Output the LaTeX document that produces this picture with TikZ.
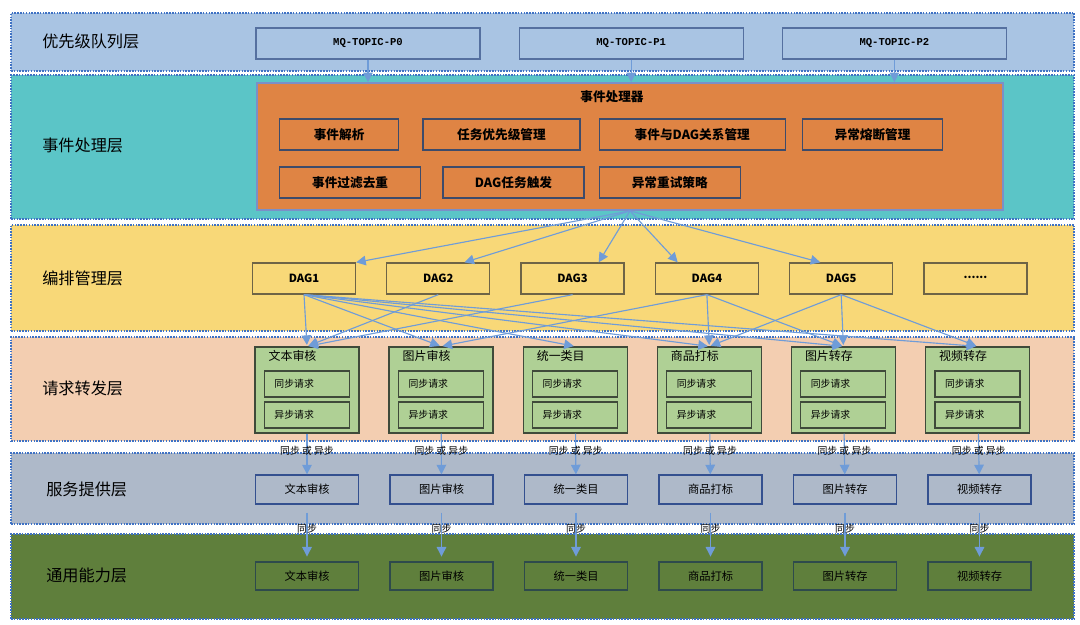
\documentclass[tikz,border=0pt]{standalone}
\usepackage{fontspec}
\setmainfont{Noto Sans CJK SC}
\newfontfamily\mqfont{Liberation Mono}
\usetikzlibrary{arrows.meta,positioning,calc}
\definecolor{queuefill}{HTML}{A9C4E3}
\definecolor{eventfill}{HTML}{5BC5C7}
\definecolor{dagfill}{HTML}{F8D878}
\definecolor{reqfill}{HTML}{F3CEB1}
\definecolor{svcfill}{HTML}{AEB9C9}
\definecolor{basefill}{HTML}{5F7F3C}
\definecolor{procorange}{HTML}{DF8444}
\definecolor{reqgreen}{HTML}{AFD095}
\definecolor{layerline}{HTML}{3F72C4}
\definecolor{flowblue}{HTML}{6F9CD8}
\definecolor{mqline}{HTML}{5570A0}
\definecolor{procline}{HTML}{7B8FC7}
\definecolor{taskline}{HTML}{3D4B6B}
\definecolor{dagline}{HTML}{6E6446}
\definecolor{reqline}{HTML}{3F4A3A}
\definecolor{svcline}{HTML}{34508F}
\definecolor{abilityline}{HTML}{2E4A4C}

\begin{document}
\begin{tikzpicture}[
  x=0.025cm, y=-0.025cm,
  node distance=0.75cm,
  layer/.style={draw=layerline, line width=1.5pt, dash pattern=on 1.1pt off 0.9pt, anchor=north west, inner sep=0pt, minimum width=26.575cm},
  ltitle/.style={anchor=west, inner sep=0pt, font=\fontsize{11.5}{13}\selectfont},
  mq/.style={draw=mqline, line width=0.8pt, fill=queuefill, minimum width=5.6cm, minimum height=0.775cm, font=\mqfont\bfseries\fontsize{7.5}{9}\selectfont},
  proc/.style={draw=procline, line width=1.2pt, fill=procorange, minimum width=18.65cm, minimum height=3.175cm},
  task/.style={draw=taskline, line width=0.9pt, fill=procorange, minimum height=0.775cm, anchor=west, font=\bfseries\fontsize{9}{10}\selectfont},
  dag/.style={draw=dagline, line width=0.9pt, fill=dagfill, minimum width=2.575cm, minimum height=0.775cm, font=\bfseries\fontsize{8}{9}\selectfont},
  req/.style={draw=reqline, line width=0.9pt, fill=reqgreen, minimum width=2.6cm, minimum height=2.15cm},
  reqtitle/.style={anchor=west, inner sep=0pt, font=\fontsize{8.5}{9}\selectfont},
  call/.style={draw=reqline, line width=0.8pt, fill=reqgreen, minimum height=0.65cm, text width=1.625cm, inner xsep=0.25cm, align=left, font=\fontsize{7}{8}\selectfont},
  svc/.style={draw=svcline, line width=0.9pt, fill=svcfill, minimum width=2.575cm, minimum height=0.725cm, font=\fontsize{8}{9}\selectfont},
  ability/.style={draw=abilityline, line width=0.9pt, fill=basefill, minimum width=2.575cm, minimum height=0.7cm, font=\fontsize{8}{9}\selectfont},
  flow/.style={-{Triangle[length=2.4mm, width=2.4mm]}, line width=0.8pt, color=flowblue},
  tag/.style={inner sep=0pt, text=black, font=\fontsize{7}{8}\selectfont},
]
\useasboundingbox (0,0) rectangle (1080,625);

% layers
\node[layer, fill=queuefill, minimum height=1.45cm] (lqueue) at (10,12) {};
\node[layer, fill=eventfill, minimum height=3.6cm] (levent) at (10,74) {};
\node[layer, fill=dagfill, minimum height=2.65cm] (ldag) at (10,224) {};
\node[layer, fill=reqfill, minimum height=2.6cm] (lreq) at (10,336) {};
\node[layer, fill=svcfill, minimum height=1.775cm] (lsvc) at (10,452) {};
\node[layer, fill=basefill, minimum height=2.125cm] (lbase) at (10,533) {};

\node[ltitle] (tqueue) at (42,41) {优先级队列层};
\node[ltitle] (tevent) at (42,145) {事件处理层};
\node[ltitle] (tdag) at (42,278) {编排管理层};
\node[ltitle] (treq) at (42,388) {请求转发层};
\node[ltitle] (tsvc) at (46,489) {服务提供层};
\node[ltitle] (tbase) at (46,575) {通用能力层};

% queues
\node[mq] (mq0) at (368,43.5) {MQ-TOPIC-P0};
\node[mq, right=0.95cm of mq0] (mq1) {MQ-TOPIC-P1};
\node[mq, right=0.95cm of mq1] (mq2) {MQ-TOPIC-P2};

% event processor
\node[proc] (proc) at (630,146.5) {};
\node[font=\bfseries\fontsize{9}{10}\selectfont] (proctitle) at (612,97) {事件处理器};

\draw[flow] (mq0) -- (mq0 |- proc.north);
\draw[flow] (mq1) -- (mq1 |- proc.north);
\draw[flow] (mq2) -- (mq2 |- proc.north);

\node[task, minimum width=2.975cm] (parse) at (279,134.5) {事件解析};
\node[task, minimum width=3.925cm, right=0.575cm of parse] (prio) {任务优先级管理};
\node[task, minimum width=4.65cm, right=0.45cm of prio] (relate) {事件与DAG关系管理};
\node[task, minimum width=3.5cm, right=0.4cm of relate] (fuse) {异常熔断管理};
\node[task, minimum width=3.525cm] (dedup) at (279,182.5) {事件过滤去重};
\node[task, minimum width=3.525cm, right=0.525cm of dedup] (trigger) {DAG任务触发};
\node[task, minimum width=3.525cm, right=0.35cm of trigger] (retry) {异常重试策略};

% dags
\node[dag] (dag1) at (304,278.5) {DAG1};
\node[dag, right=of dag1] (dag2) {DAG2};
\node[dag, right=of dag2] (dag3) {DAG3};
\node[dag, right=of dag3] (dag4) {DAG4};
\node[dag, right=of dag4] (dag5) {DAG5};
\node[dag, right=of dag5] (dag6) {\raisebox{0.25em}{......}};

\draw[flow] (proc.south) -- (dag1.north east);
\draw[flow] (proc.south) -- ($(dag2.north west)!.75!(dag2.north east)$);
\draw[flow] (proc.south) -- ($(dag3.north west)!.75!(dag3.north east)$);
\draw[flow] (proc.south) -- ($(dag4.north west)!.22!(dag4.north east)$);
\draw[flow] (proc.south) -- ($(dag5.north west)!.3!(dag5.north east)$);

% request forwarding
\node[req] (rtext) at (307,390) {};
\node[req, right=0.72cm of rtext] (rimage) {};
\node[req, right=0.72cm of rimage] (rcat) {};
\node[req, right=0.72cm of rcat] (rlabel) {};
\node[req, right=0.72cm of rlabel] (rsave) {};
\node[req, right=0.72cm of rsave] (rvideo) {};

\node[reqtitle] (rtext-t) at ([xshift=0.35cm, yshift=-0.25cm]rtext.north west) {文本审核};
\node[reqtitle] (rimage-t) at ([xshift=0.35cm, yshift=-0.25cm]rimage.north west) {图片审核};
\node[reqtitle] (rcat-t) at ([xshift=0.35cm, yshift=-0.25cm]rcat.north west) {统一类目};
\node[reqtitle] (rlabel-t) at ([xshift=0.35cm, yshift=-0.25cm]rlabel.north west) {商品打标};
\node[reqtitle] (rsave-t) at ([xshift=0.35cm, yshift=-0.25cm]rsave.north west) {图片转存};
\node[reqtitle] (rvideo-t) at ([xshift=0.35cm, yshift=-0.25cm]rvideo.north west) {视频转存};

\node[call] (rtext-s) at ([yshift=0.15cm]rtext.center) {同步请求};
\node[call] (rtext-a) at ([yshift=-0.625cm]rtext.center) {异步请求};
\node[call] (rimage-s) at ([yshift=0.15cm]rimage.center) {同步请求};
\node[call] (rimage-a) at ([yshift=-0.625cm]rimage.center) {异步请求};
\node[call] (rcat-s) at ([yshift=0.15cm]rcat.center) {同步请求};
\node[call] (rcat-a) at ([yshift=-0.625cm]rcat.center) {异步请求};
\node[call] (rlabel-s) at ([yshift=0.15cm]rlabel.center) {同步请求};
\node[call] (rlabel-a) at ([yshift=-0.625cm]rlabel.center) {异步请求};
\node[call] (rsave-s) at ([yshift=0.15cm]rsave.center) {同步请求};
\node[call] (rsave-a) at ([yshift=-0.625cm]rsave.center) {异步请求};
\node[call] (rvideo-s) at ([yshift=0.15cm]rvideo.center) {同步请求};
\node[call] (rvideo-a) at ([yshift=-0.625cm]rvideo.center) {异步请求};

\draw[flow, shorten >=1pt] (dag1.south) -- (rtext.north);
\draw[flow, shorten >=1pt] (dag1.south) -- (rimage.north);
\draw[flow, shorten >=1pt] (dag1.south) -- (rcat.north);
\draw[flow, shorten >=1pt] (dag1.south) -- (rlabel.north);
\draw[flow, shorten >=1pt] (dag1.south) -- (rsave.north);
\draw[flow, shorten >=1pt] (dag1.south) -- (rvideo.north);
\draw[flow, shorten >=1pt] (dag2.south) -- (rtext.north);
\draw[flow, shorten >=1pt] (dag3.south) -- (rtext.north);
\draw[flow, shorten >=1pt] (dag4.south) -- (rimage.north);
\draw[flow, shorten >=1pt] (dag4.south) -- (rlabel.north);
\draw[flow, shorten >=1pt] (dag4.south) -- (rsave.north);
\draw[flow, shorten >=1pt] (dag5.south) -- (rlabel.north);
\draw[flow, shorten >=1pt] (dag5.south) -- (rsave.north);
\draw[flow, shorten >=1pt] (dag5.south) -- (rvideo.north);

% services
\node[svc] (stext) at (307,489.5) {文本审核};
\node[svc, right=0.755cm of stext] (simage) {图片审核};
\node[svc, right=0.755cm of simage] (scat) {统一类目};
\node[svc, right=0.755cm of scat] (slabel) {商品打标};
\node[svc, right=0.755cm of slabel] (ssave) {图片转存};
\node[svc, right=0.755cm of ssave] (svideo) {视频转存};

\draw[flow] (rtext) -- node[tag, pos=0.43] (mtext) {同步 或 异步} (stext);
\draw[flow] (rimage) -- node[tag, pos=0.43] (mimage) {同步 或 异步} (simage);
\draw[flow] (rcat) -- node[tag, pos=0.43] (mcat) {同步 或 异步} (scat);
\draw[flow] (rlabel) -- node[tag, pos=0.43] (mlabel) {同步 或 异步} (slabel);
\draw[flow] (rsave) -- node[tag, pos=0.43] (msave) {同步 或 异步} (ssave);
\draw[flow] (rvideo) -- node[tag, pos=0.43] (mvideo) {同步 或 异步} (svideo);

% abilities
\node[ability] (btext) at (307,576) {文本审核};
\node[ability, right=0.755cm of btext] (bimage) {图片审核};
\node[ability, right=0.755cm of bimage] (bcat) {统一类目};
\node[ability, right=0.755cm of bcat] (blabel) {商品打标};
\node[ability, right=0.755cm of blabel] (bsave) {图片转存};
\node[ability, right=0.755cm of bsave] (bvideo) {视频转存};

\draw[flow, shorten <=0.2cm, shorten >=0.12cm] (stext) -- node[tag, pos=0.42] (ntext) {同步} (btext);
\draw[flow, shorten <=0.2cm, shorten >=0.12cm] (simage) -- node[tag, pos=0.42] (nimage) {同步} (bimage);
\draw[flow, shorten <=0.2cm, shorten >=0.12cm] (scat) -- node[tag, pos=0.42] (ncat) {同步} (bcat);
\draw[flow, shorten <=0.2cm, shorten >=0.12cm] (slabel) -- node[tag, pos=0.42] (nlabel) {同步} (blabel);
\draw[flow, shorten <=0.2cm, shorten >=0.12cm] (ssave) -- node[tag, pos=0.42] (nsave) {同步} (bsave);
\draw[flow, shorten <=0.2cm, shorten >=0.12cm] (svideo) -- node[tag, pos=0.42] (nvideo) {同步} (bvideo);
\end{tikzpicture}
\end{document}
